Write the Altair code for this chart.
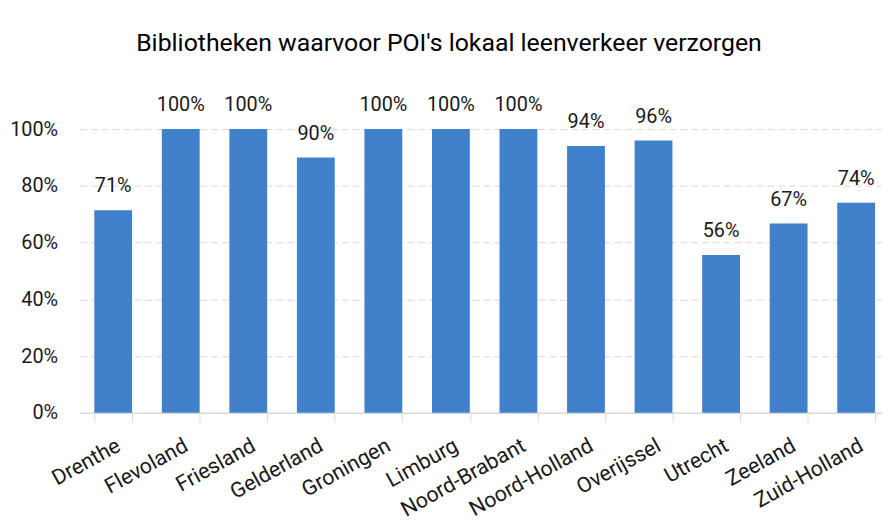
import altair as alt
import pandas as pd

provinces = ["Drenthe", "Flevoland", "Friesland", "Gelderland", "Groningen", "Limburg",
             "Noord-Brabant", "Noord-Holland", "Overijssel", "Utrecht", "Zeeland", "Zuid-Holland"]
shares = [0.714, 1.0, 1.0, 0.90, 1.0, 1.0, 1.0, 0.94, 0.96, 0.556, 0.667, 0.74]

df = pd.DataFrame({"provincie": provinces, "aandeel": shares})

FONT = "Roboto"
BLUE = "#4180CB"
TXT = "#1a1a1a"

x = alt.X("provincie:N", sort=provinces, title=None,
          scale=alt.Scale(paddingInner=0.44, paddingOuter=0.22),
          axis=alt.Axis(labelAngle=-29, labelAlign="right", labelBaseline="top",
                        labelPadding=13, labelFontSize=21.5, labelFont=FONT, labelColor=TXT,
                        ticks=True, tickBand="extent", tickSize=9, tickColor="#d9d9d9",
                        domainColor="#d9d9d9", domainWidth=1.5, grid=False))
y = alt.Y("aandeel:Q", title=None,
          scale=alt.Scale(domain=[0, 1], nice=False),
          axis=alt.Axis(values=[0, 0.2, 0.4, 0.6, 0.8, 1.0], format=".0%",
                        labelFontSize=20, labelFont=FONT, labelColor=TXT,
                        labelPadding=22, ticks=False, domain=False,
                        grid=True, gridColor="#d9d9d9", gridDash=[7, 4], gridWidth=1))

bars = alt.Chart(df).mark_bar(color=BLUE).encode(x=x, y=y)
labels = alt.Chart(df).mark_text(baseline="bottom", dy=-14, fontSize=20, font=FONT,
                                 color=TXT).encode(
    x=alt.X("provincie:N", sort=provinces),
    y="aandeel:Q",
    text=alt.Text("aandeel:Q", format=".0%"))

chart = alt.layer(bars, labels).properties(
    width=817, height=286,
    title=alt.Title("Bibliotheken waarvoor POI's lokaal leenverkeer verzorgen",
                    fontSize=25, font=FONT, fontWeight="normal", color="#000000",
                    anchor="middle", dx=-36, offset=40),
    autosize=alt.AutoSizeParams(type="none"),
    padding={"left": 72, "top": 120, "right": -8, "bottom": 110},
).configure_view(stroke=None)

chart.save("out.html", embed_options={"renderer": "svg", "actions": False})
